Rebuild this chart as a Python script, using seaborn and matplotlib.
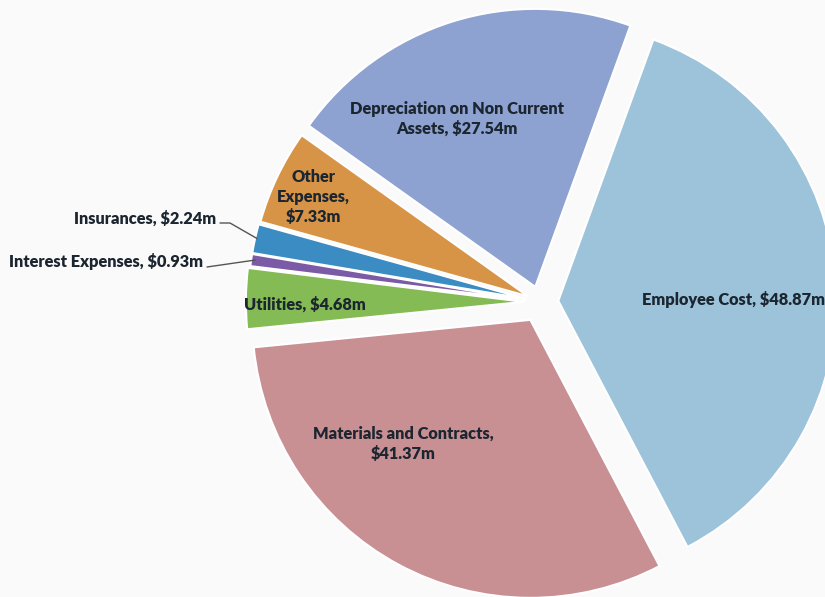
import matplotlib
matplotlib.use("Agg")
import numpy as np
import matplotlib.pyplot as plt
import seaborn as sns

# Expense categories, in clockwise order starting from the top-right
categories = [
    "Employee Cost",
    "Materials and Contracts",
    "Utilities",
    "Interest Expenses",
    "Insurances",
    "Other Expenses",
    "Depreciation on Non Current Assets",
]
values = [48.87, 41.37, 4.68, 0.93, 2.24, 7.33, 27.54]  # $ millions
slice_colors = ["#9cc3d9", "#c99094", "#84bb54", "#7b5aa6", "#3b8cc2", "#d79447", "#8ea2d1"]

# How each category name is wrapped in its label
name_lines = [
    ["Employee Cost,"],
    ["Materials and Contracts,"],
    ["Utilities,"],
    ["Interest Expenses,"],
    ["Insurances,"],
    ["Other", "Expenses,"],
    ["Depreciation on Non Current", "Assets,"],
]
same_line_value = [True, False, True, True, True, False, True]


def make_label(lines, v, inline):
    lines = list(lines)
    if inline:
        lines[-1] = f"{lines[-1]} ${v:.2f}m"
    else:
        lines.append(f"${v:.2f}m")
    return "\n".join(lines)


labels = [make_label(l, v, s) for l, v, s in zip(name_lines, values, same_line_value)]

sns.set_theme(style="white")
plt.rcParams["font.family"] = ["Lato", "DejaVu Sans"]

W, H = 825, 597
fig = plt.figure(figsize=(W / 100, H / 100), dpi=100, facecolor="#fafafa")
ax = fig.add_axes([0, 0, 1, 1])
ax.set_facecolor("#fafafa")

center = (540, 295)
radius = 278
# slice offsets as a fraction of the radius
explode_frac = [0.066, 0.073, 0.058, 0.05, 0.05, 0.047, 0.057]

wedges, _ = ax.pie(
    values,
    colors=sns.color_palette(slice_colors),
    startangle=70,
    counterclock=False,
    explode=[f * radius for f in explode_frac],
    center=center,
    radius=radius,
    frame=True,
    wedgeprops=dict(edgecolor="white", linewidth=1.5),
)
ax.set_xlim(0, W)
ax.set_ylim(0, H)
ax.set_aspect("equal")
ax.axis("off")

txt = dict(fontsize=11.8, fontweight="heavy", color="#1c2630", linespacing=1.3)

# Labels drawn inside their slices
inside_pos = {
    0: (734, 297),
    1: (403, 153),
    2: (305, 292),
    5: (313, 400),
    6: (457, 478),
}
for i, (x, y) in inside_pos.items():
    ax.text(x, y, labels[i], ha="center", va="center", **txt)


def outer_point(w):
    mid = np.deg2rad((w.theta1 + w.theta2) / 2)
    cx, cy = w.center
    return cx + w.r * np.cos(mid), cy + w.r * np.sin(mid)


# Small slices labelled outside with leader lines
ins_x, ins_y = 216, 378
ax.text(ins_x, ins_y, labels[4], ha="right", va="center", **txt)
px, py = outer_point(wedges[4])
ax.plot([ins_x + 4, ins_x + 14, px + 2], [ins_y - 4, ins_y - 4, py], color="#555555", lw=1)

int_x, int_y = 203, 335
ax.text(int_x, int_y, labels[3], ha="right", va="center", **txt)
px, py = outer_point(wedges[3])
ax.plot([int_x + 4, px + 4], [int_y - 5, py], color="#555555", lw=1)

fig.savefig("out.png", dpi=100, facecolor=fig.get_facecolor())
